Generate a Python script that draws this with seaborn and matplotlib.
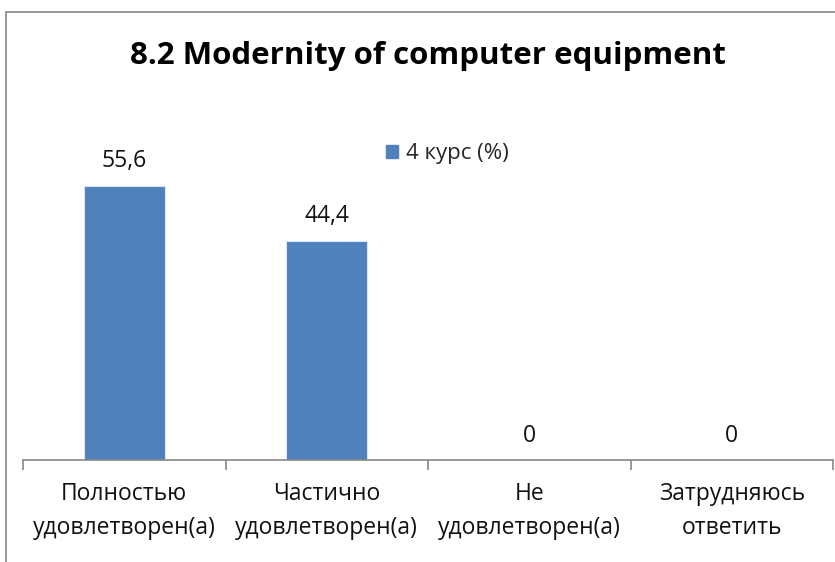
import matplotlib
matplotlib.use("Agg")
import matplotlib.pyplot as plt
import matplotlib.patches as mpatches
import seaborn as sns
import pandas as pd

categories = [
    "Полностью\nудовлетворен(а)",
    "Частично\nудовлетворен(а)",
    "Не\nудовлетворен(а)",
    "Затрудняюсь\nответить",
]
values = [55.6, 44.4, 0, 0]
series_name = "4 курс (%)"
title = "8.2 Modernity of computer equipment"

BLUE = "#4F81BD"
GRAY = "#878787"

sns.set_style("white")
plt.rcParams["font.family"] = ["Open Sans", "DejaVu Sans"]

df = pd.DataFrame({"category": categories, "value": values})

fig = plt.figure(figsize=(8.35, 5.62), dpi=100)
ax = fig.add_axes([23 / 835, 1 - 460 / 562, 810 / 835, 296 / 562])

sns.barplot(data=df, x="category", y="value", color=BLUE, width=0.4,
            saturation=1, ax=ax, edgecolor="#DDE5F0", linewidth=0.8)

ax.set_xlim(-0.5, len(categories) - 0.5)
ax.set_ylim(0, 60)
ax.set_xlabel("")
ax.set_ylabel("")
ax.set_yticks([])

for side in ["top", "right", "left"]:
    ax.spines[side].set_visible(False)
ax.spines["bottom"].set_color(GRAY)
ax.spines["bottom"].set_linewidth(1.2)

ax.set_xticks(range(len(categories)))
ax.set_xticklabels(categories, fontsize=16.5, color="#111111", linespacing=1.55)
ax.tick_params(axis="x", which="major", length=0, pad=16)
ax.set_xticks([i - 0.5 for i in range(len(categories) + 1)], minor=True)
ax.tick_params(axis="x", which="minor", length=7, width=1.2, color=GRAY,
               direction="out", bottom=True)

labels = [f"{v:g}".replace(".", ",") for v in values]
ax.bar_label(ax.containers[0], labels=labels, padding=9, fontsize=16.5,
             color="#111111")

fig.text(428 / 835, 1 - 64 / 562, title, ha="center", va="baseline",
         fontsize=22.5, fontweight="bold", color="black")

handle = mpatches.Patch(color=BLUE, label=series_name)
fig.legend(handles=[handle], loc="center left",
           bbox_to_anchor=(366 / 835, 1 - 154 / 562), frameon=False,
           handlelength=0.55, handleheight=0.55, handletextpad=0.35,
           fontsize=16)

frame = mpatches.Rectangle((6 / 835, -0.01), 1.02, 1 - 12 / 562 + 0.01,
                           transform=fig.transFigure, fill=False,
                           edgecolor=GRAY, linewidth=1.2, clip_on=False)
fig.patches.append(frame)

fig.savefig("out.png", dpi=100)
